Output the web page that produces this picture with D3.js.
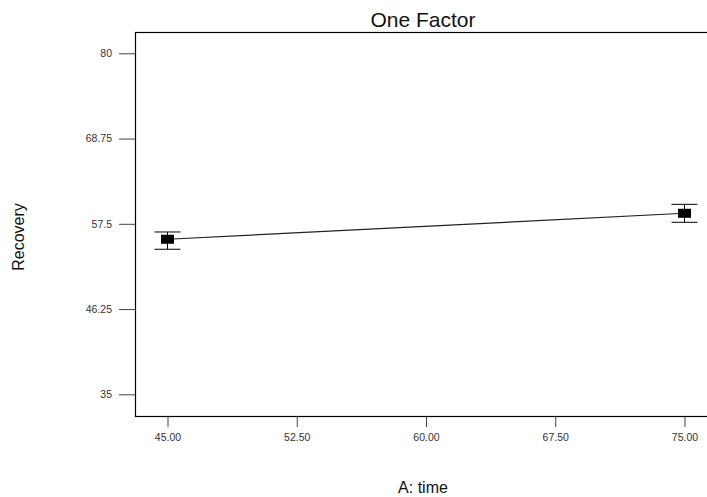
<!DOCTYPE html>
<html>
<head>
<meta charset="utf-8">
<script src="https://cdn.jsdelivr.net/npm/d3@7"></script>
<style>
  body { margin: 0; background: #fff; }
  svg text { font-family: Arial, 'Liberation Sans', sans-serif; }
</style>
</head>
<body>
<div id="chart"></div>
<script>
'use strict';

// Data
let times = [45, 75];
let recovery = [55.46, 58.89];
let recoveryLow = [54.14, 57.70];
let recoveryHigh = [56.42, 60.07];

let xTicks = [45, 52.5, 60, 67.5, 75];
let yTicks = [35, 46.25, 57.5, 68.75, 80];
let yTickLabels = ['35', '46.25', '57.5', '68.75', '80'];

// Format
let width = 707;
let height = 497;
let frame = { left: 135, top: 32, right: 708, bottom: 416 };

let lineColor = '#000';
let tickColor = '#444';
let labelColor = '#333';

let svg = d3.select('#chart').append('svg')
  .attr('width', width)
  .attr('height', height);

// Scales
let xScale = d3.scaleLinear().domain([45, 75]).range([167.5, 684.5]);
let yScale = d3.scaleLinear().domain([35, 80]).range([394.3, 53.3]);

// Axes
let xAxis = d3.axisBottom(xScale)
  .tickValues(xTicks)
  .tickFormat(d3.format('.2f'))
  .tickSize(11)
  .tickPadding(7)
  .tickSizeOuter(0);

let yAxis = d3.axisLeft(yScale)
  .tickValues(yTicks)
  .tickFormat((d, i) => yTickLabels[i])
  .tickSize(16)
  .tickPadding(7)
  .tickSizeOuter(0);

let gx = svg.append('g')
  .attr('transform', `translate(0,${frame.bottom})`)
  .call(xAxis);
let gy = svg.append('g')
  .attr('transform', `translate(${frame.left},0)`)
  .call(yAxis);

[gx, gy].forEach(g => {
  g.select('.domain').remove();
  g.selectAll('.tick line').attr('stroke', tickColor);
  g.selectAll('.tick text')
    .attr('fill', labelColor)
    .style('font-size', '10.5px');
});

// Frame
svg.append('rect')
  .attr('x', frame.left + 0.5)
  .attr('y', frame.top + 0.5)
  .attr('width', frame.right - frame.left)
  .attr('height', frame.bottom - frame.top)
  .attr('fill', 'none')
  .attr('stroke', lineColor)
  .attr('stroke-width', 1.2);

// Points
let points = times.map((t, i) => ({
  x: t, y: recovery[i], lo: recoveryLow[i], hi: recoveryHigh[i]
}));

svg.append('path')
  .datum(points)
  .attr('d', d3.line().x(d => xScale(d.x)).y(d => yScale(d.y)))
  .attr('fill', 'none')
  .attr('stroke', '#222')
  .attr('stroke-width', 1.2);

let capHalf = 13;
let errs = svg.append('g').selectAll('g')
  .data(points)
  .enter()
  .append('g');

errs.append('line')
  .attr('x1', d => xScale(d.x))
  .attr('x2', d => xScale(d.x))
  .attr('y1', d => yScale(d.lo))
  .attr('y2', d => yScale(d.hi))
  .attr('stroke', lineColor);

errs.append('line')
  .attr('x1', d => xScale(d.x) - capHalf)
  .attr('x2', d => xScale(d.x) + capHalf)
  .attr('y1', d => yScale(d.hi))
  .attr('y2', d => yScale(d.hi))
  .attr('stroke', lineColor);

errs.append('line')
  .attr('x1', d => xScale(d.x) - capHalf)
  .attr('x2', d => xScale(d.x) + capHalf)
  .attr('y1', d => yScale(d.lo))
  .attr('y2', d => yScale(d.lo))
  .attr('stroke', lineColor);

errs.append('rect')
  .attr('x', d => xScale(d.x) - 6.5)
  .attr('y', d => yScale(d.y) - 4.5)
  .attr('width', 13)
  .attr('height', 9)
  .attr('fill', '#000');

// Titles
svg.append('text')
  .attr('x', 423)
  .attr('y', 27)
  .attr('text-anchor', 'middle')
  .style('font-size', '21px')
  .attr('fill', '#111')
  .text('One Factor');

svg.append('text')
  .attr('x', 423)
  .attr('y', 493)
  .attr('text-anchor', 'middle')
  .style('font-size', '16px')
  .attr('fill', '#111')
  .text('A: time');

svg.append('text')
  .attr('transform', 'translate(24,237) rotate(-90)')
  .attr('text-anchor', 'middle')
  .style('font-size', '16px')
  .attr('fill', '#111')
  .text('Recovery');
</script>
</body>
</html>
